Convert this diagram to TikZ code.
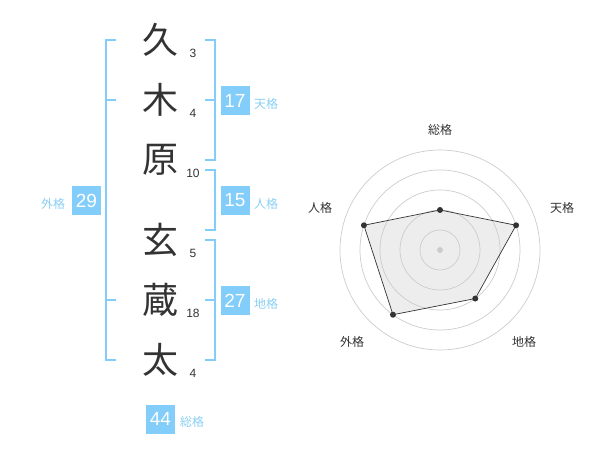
\documentclass[tikz,border=0pt]{standalone}
\usepackage{fontspec}
\usetikzlibrary{calc}
\setmainfont{Liberation Sans}
\newfontfamily\cjk{Noto Sans CJK JP}
\definecolor{sky}{HTML}{82CDF9}
\definecolor{skytxt}{HTML}{8ACFF5}
\definecolor{ink}{HTML}{333333}
\definecolor{ringc}{HTML}{CCCCCC}
\begin{document}
\begin{tikzpicture}[x=1pt,y=-1pt,
  kanji/.style={font=\cjk\fontsize{36}{36}\selectfont, text=ink, inner sep=0pt},
  strokes/.style={font=\fontsize{12}{12}\selectfont, text=ink, inner sep=0pt},
  score/.style={fill=sky, text=white, font=\fontsize{19}{19}\selectfont, minimum size=29pt, inner sep=0pt},
  caption/.style={font=\cjk\fontsize{12}{12}\selectfont, text=skytxt, inner sep=0pt},
  rlabel/.style={font=\cjk\fontsize{12}{12}\selectfont, text=ink, inner sep=0pt},
  bracket/.style={draw=sky, line width=2pt},
  ring/.style={draw=ringc, line width=0.7pt},
  dot/.style={circle, fill=ink, minimum size=6pt, inner sep=0pt},
  cdot/.style={circle, fill=ringc, minimum size=6pt, inner sep=0pt}]
\useasboundingbox (0,0) rectangle (600,470);
% characters
\node[kanji] (k1) at (160,40) {久};
\node[kanji] (k2) at (160,100) {木};
\node[kanji] (k3) at (160,160) {原};
\node[kanji] (k4) at (160,240) {玄};
\node[kanji] (k5) at (160,300) {蔵};
\node[kanji] (k6) at (160,360) {太};
% stroke counts
\node[strokes] (s1) at (193,53) {3};
\node[strokes] (s2) at (193,113) {4};
\node[strokes] (s3) at (193,173) {10};
\node[strokes] (s4) at (193,253) {5};
\node[strokes] (s5) at (193,313) {18};
\node[strokes] (s6) at (193,373) {4};
% brackets
\draw[bracket] (116,40) -- (106,40) -- (106,360) -- (116,360);
\draw[bracket] (106,100) -- (116,100);
\draw[bracket] (106,300) -- (116,300);
\draw[bracket] (205,40) -- (215,40) -- (215,160) -- (205,160);
\draw[bracket] (205,100) -- (215,100);
\draw[bracket] (205,170) -- (215,170) -- (215,230) -- (205,230);
\draw[bracket] (205,240) -- (215,240) -- (215,360) -- (205,360);
\draw[bracket] (205,300) -- (215,300);
% scores
\node[score] (ten) at (235,100.5) {17};
\node[caption] (tenl) at (266,104) {天格};
\node[score] (jin) at (235,200.5) {15};
\node[caption] (jinl) at (266,204) {人格};
\node[score] (chi) at (235,300.5) {27};
\node[caption] (chil) at (266,304) {地格};
\node[score] (gai) at (86.5,200.5) {29};
\node[caption] (gail) at (53,203.5) {外格};
\node[score] (sou) at (160.5,419) {44};
\node[caption] (soul) at (192,422) {総格};
% radar
\coordinate (c) at (440,250);
\coordinate (v1) at ($(c)+(-90:40)$);
\coordinate (v2) at ($(c)+(-18:80)$);
\coordinate (v3) at ($(c)+(54:60)$);
\coordinate (v4) at ($(c)+(126:80)$);
\coordinate (v5) at ($(c)+(198:80)$);
\fill[black!7] (v1) -- (v2) -- (v3) -- (v4) -- (v5) -- cycle;
\foreach \r in {20,40,60,80,100} \draw[ring] (c) circle (\r);
\draw[ink, line width=0.7pt] (v1) -- (v2) -- (v3) -- (v4) -- (v5) -- cycle;
\node[cdot] (cd) at (c) {};
\node[dot] (d1) at (v1) {};
\node[dot] (d2) at (v2) {};
\node[dot] (d3) at (v3) {};
\node[dot] (d4) at (v4) {};
\node[dot] (d5) at (v5) {};
\node[rlabel] (l1) at (440,130) {総格};
\node[rlabel] (l2) at (562,208) {天格};
\node[rlabel] (l3) at (524,342) {地格};
\node[rlabel] (l4) at (352,342) {外格};
\node[rlabel] (l5) at (320,208) {人格};
\end{tikzpicture}
\end{document}
